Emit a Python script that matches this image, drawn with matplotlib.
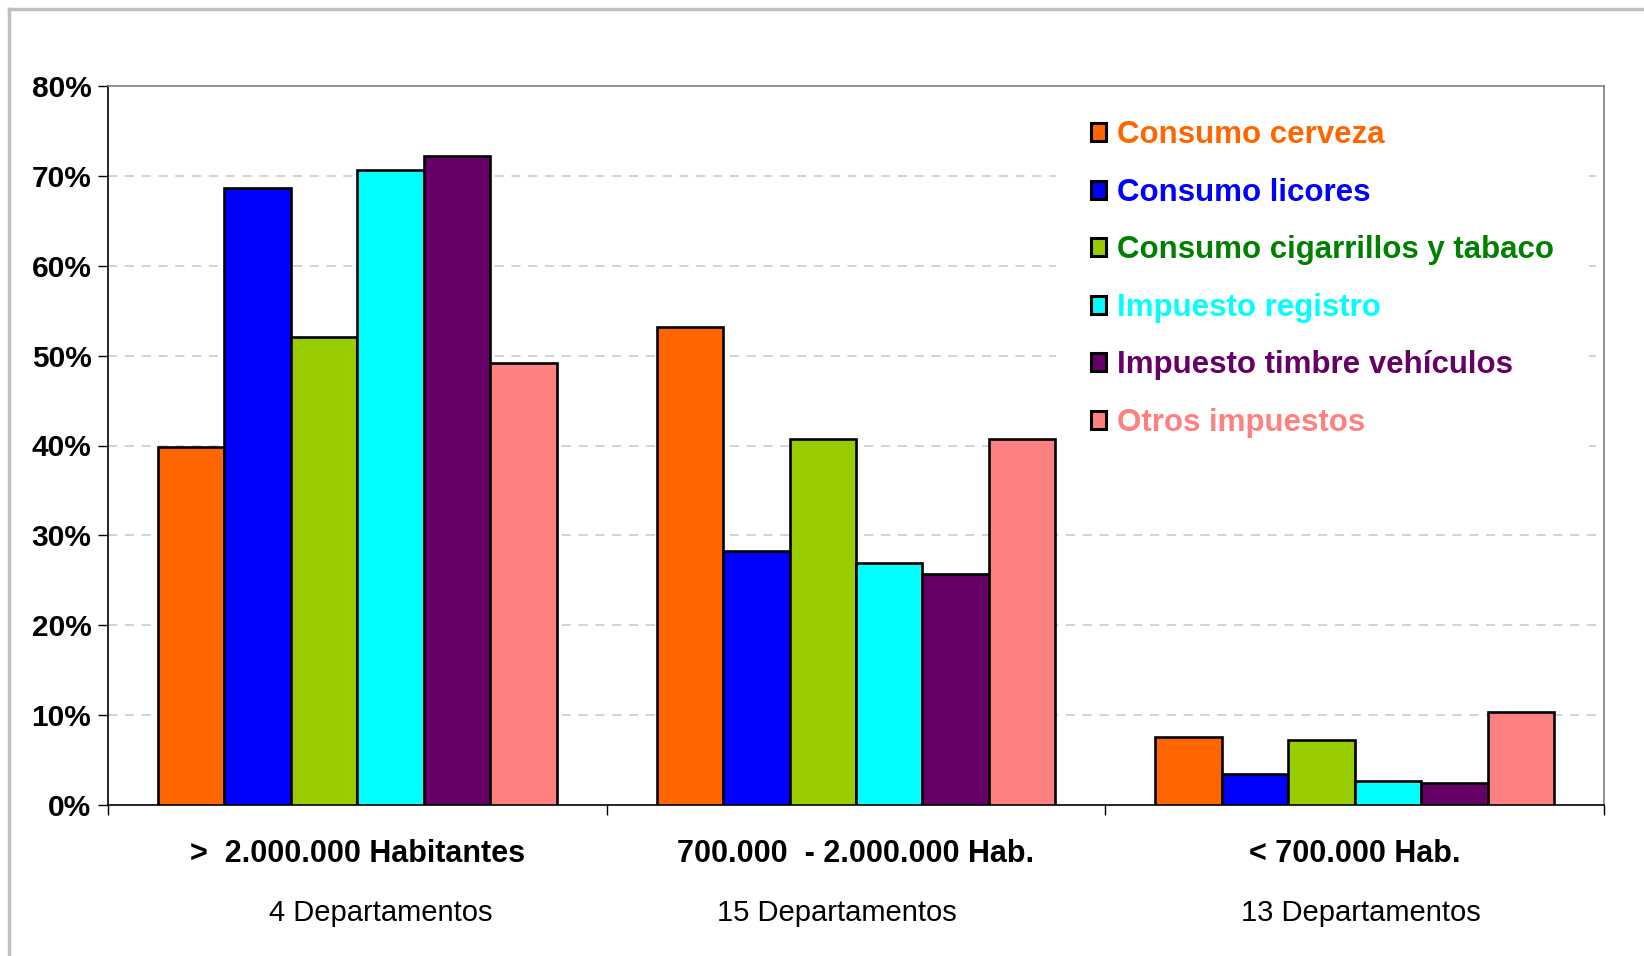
import matplotlib
matplotlib.use("Agg")
import matplotlib.pyplot as plt
import numpy as np
from matplotlib.lines import Line2D

plt.rcParams['font.family'] = ['Liberation Sans', 'DejaVu Sans']

categories = [">  2.000.000 Habitantes", "700.000  - 2.000.000 Hab.", "< 700.000 Hab."]
subtitles = ["4 Departamentos", "15 Departamentos", "13 Departamentos"]
series_names = ["Consumo cerveza", "Consumo licores", "Consumo cigarrillos y tabaco",
                "Impuesto registro", "Impuesto timbre vehículos", "Otros impuestos"]
cerveza = [39.8, 53.2, 7.6]
licores = [68.6, 28.3, 3.4]
cigarrillos = [52.1, 40.7, 7.2]
registro = [70.6, 26.9, 2.7]
timbre = [72.2, 25.7, 2.4]
otros = [49.2, 40.7, 10.3]
series_values = [cerveza, licores, cigarrillos, registro, timbre, otros]
y_ticks = [0, 10, 20, 30, 40, 50, 60, 70, 80]

bar_colors = ["#FF6600", "#0000FF", "#99CC00", "#00FFFF", "#660066", "#FF8080"]
text_colors = ["#FF6600", "#0000FF", "#008000", "#00FFFF", "#660066", "#FF8080"]

W, H = 1644, 956
fig = plt.figure(figsize=(W/100, H/100), dpi=100)
l, r, t, b = 108, 1604, 86, 805
ax = fig.add_axes([l/W, 1-b/H, (r-l)/W, (b-t)/H])

n = len(series_names)
bw = 0.8/n
centers = np.arange(len(categories)) + 0.5
for i, (name, vals) in enumerate(zip(series_names, series_values)):
    x = centers - 0.4 + bw*(i+0.5)
    ax.bar(x, vals, width=bw, color=bar_colors[i], edgecolor="black", linewidth=1.9,
           label=name, zorder=3)

ax.set_xlim(0, 3)
ax.set_ylim(0, 80)
ax.set_yticks(y_ticks)
ax.set_yticklabels([f"{v}%" for v in y_ticks], fontsize=21.5, fontweight="bold")
ax.set_xticks([0, 1, 2, 3])
ax.set_xticklabels([])
ax.tick_params(axis="y", direction="out", length=7, width=1, pad=5)
ax.tick_params(axis="x", direction="out", length=7, width=1)

for y in y_ticks[1:-1]:
    ax.axhline(y, color="#C8C8C8", linestyle=(0, (6, 5)), linewidth=1.1, zorder=1)

ax.spines["left"].set_color("black")
ax.spines["bottom"].set_color("black")
ax.spines["top"].set_color("#808080")
ax.spines["right"].set_color("#808080")
for s in ax.spines.values():
    s.set_linewidth(1.2)

# subtitle placement offsets (layout) relative to group centres
sub_offsets = [0.047, -0.039, 0.012]
xt = ax.get_xaxis_transform()
for c, cat, sub, off in zip(centers, categories, subtitles, sub_offsets):
    ax.text(c, -0.0686, cat, transform=xt, ha="center", va="center",
            fontsize=22, fontweight="bold")
    ax.text(c + off, -0.150, sub, transform=xt, ha="center", va="center", fontsize=21)

leg = ax.legend(loc="upper left", bbox_to_anchor=(0.634, 1.0), frameon=True,
                facecolor="white", edgecolor="none", framealpha=1,
                prop={"size": 22.5, "weight": "bold"}, handlelength=0.5,
                handleheight=0.5, handletextpad=0.35, labelspacing=0.88,
                borderpad=1.1, borderaxespad=0)
leg.set_zorder(2.4)
for txt, col in zip(leg.get_texts(), text_colors):
    txt.set_color(col)
for h in leg.legend_handles:
    h.set_linewidth(2.2)

fig.add_artist(Line2D([8.5/W, 8.5/W], [0, 1-8.5/H], transform=fig.transFigure,
                      color="#C0C0C0", linewidth=2.5))
fig.add_artist(Line2D([8.5/W, 1], [1-8.5/H, 1-8.5/H], transform=fig.transFigure,
                      color="#C0C0C0", linewidth=2.5))

fig.savefig("out.png", dpi=100)
